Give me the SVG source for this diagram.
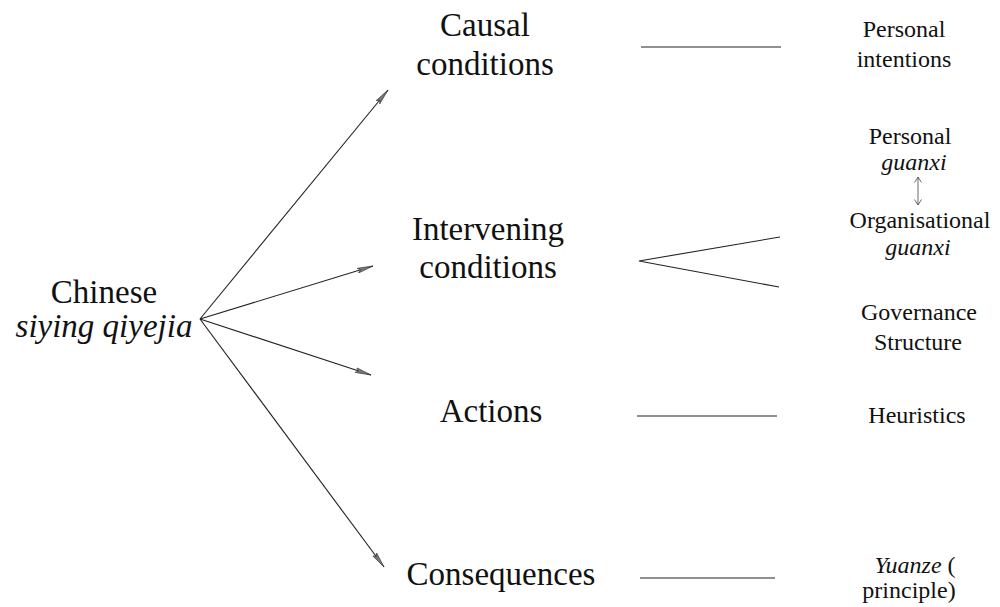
<svg xmlns="http://www.w3.org/2000/svg" width="1000" height="607" viewBox="0 0 1000 607" font-family="Liberation Serif, Tinos, Times New Roman, Times, DejaVu Serif, Noto Serif, FreeSerif, serif">
<style>
text{fill:#111;text-anchor:middle}
.big{font-size:33px}
.sm{font-size:24px}
.it{font-style:italic}
.ln{stroke:#222;stroke-width:1.1;fill:none}
</style>
<defs>
<marker id="ah" viewBox="0 0 16 6" refX="16" refY="3" markerWidth="16" markerHeight="6" markerUnits="userSpaceOnUse" orient="auto">
<path d="M0,0.5 L16,3 L0,5.5 L3,3 Z" fill="#777" stroke="#333" stroke-width="0.6"/>
</marker>
<marker id="sh" viewBox="0 0 8 8" refX="7" refY="4" markerWidth="8" markerHeight="8" markerUnits="userSpaceOnUse" orient="auto-start-reverse">
<path d="M1.5,0.5 L7,4 L1.5,7.5" fill="none" stroke="#444" stroke-width="0.8"/>
</marker>
</defs>
<g id="connectors">
<line class="ln" x1="200" y1="319" x2="388" y2="90" marker-end="url(#ah)"/>
<line class="ln" x1="200" y1="319" x2="373" y2="266" marker-end="url(#ah)"/>
<line class="ln" x1="200" y1="319" x2="371" y2="375" marker-end="url(#ah)"/>
<line class="ln" x1="200" y1="319" x2="384" y2="567" marker-end="url(#ah)"/>
<line class="ln" x1="641" y1="47" x2="781" y2="47"/>
<polyline class="ln" points="780,237 639,261 779,287"/>
<line class="ln" x1="637" y1="416" x2="777" y2="416"/>
<line class="ln" x1="640" y1="578" x2="775" y2="578"/>
<line x1="918" y1="177" x2="918" y2="205" stroke="#444" stroke-width="0.8" marker-start="url(#sh)" marker-end="url(#sh)"/>
</g>
<g id="source">
<text class="big" x="104" y="303">Chinese</text>
<text class="big it" x="104" y="337">siying qiyejia</text>
</g>
<g id="causal">
<text class="big" x="485" y="36">Causal</text>
<text class="big" x="485" y="75">conditions</text>
</g>
<g id="intervening">
<text class="big" x="488" y="240">Intervening</text>
<text class="big" x="488" y="278">conditions</text>
</g>
<g id="actions">
<text class="big" x="491" y="422">Actions</text>
</g>
<g id="consequences">
<text class="big" x="501" y="585">Consequences</text>
</g>
<g id="personal-intentions">
<text class="sm" x="904" y="37">Personal</text>
<text class="sm" x="904" y="67">intentions</text>
</g>
<g id="personal-guanxi">
<text class="sm" x="910" y="144">Personal</text>
<text class="sm it" x="914" y="170">guanxi</text>
</g>
<g id="organisational-guanxi">
<text class="sm" x="920" y="228">Organisational</text>
<text class="sm it" x="918" y="255">guanxi</text>
</g>
<g id="governance">
<text class="sm" x="919" y="320">Governance</text>
<text class="sm" x="918" y="350">Structure</text>
</g>
<g id="heuristics">
<text class="sm" x="917" y="423">Heuristics</text>
</g>
<g id="yuanze">
<text class="sm" x="915" y="573"><tspan class="it">Yuanze</tspan> (</text>
<text class="sm" x="909" y="598">principle)</text>
</g>
</svg>
